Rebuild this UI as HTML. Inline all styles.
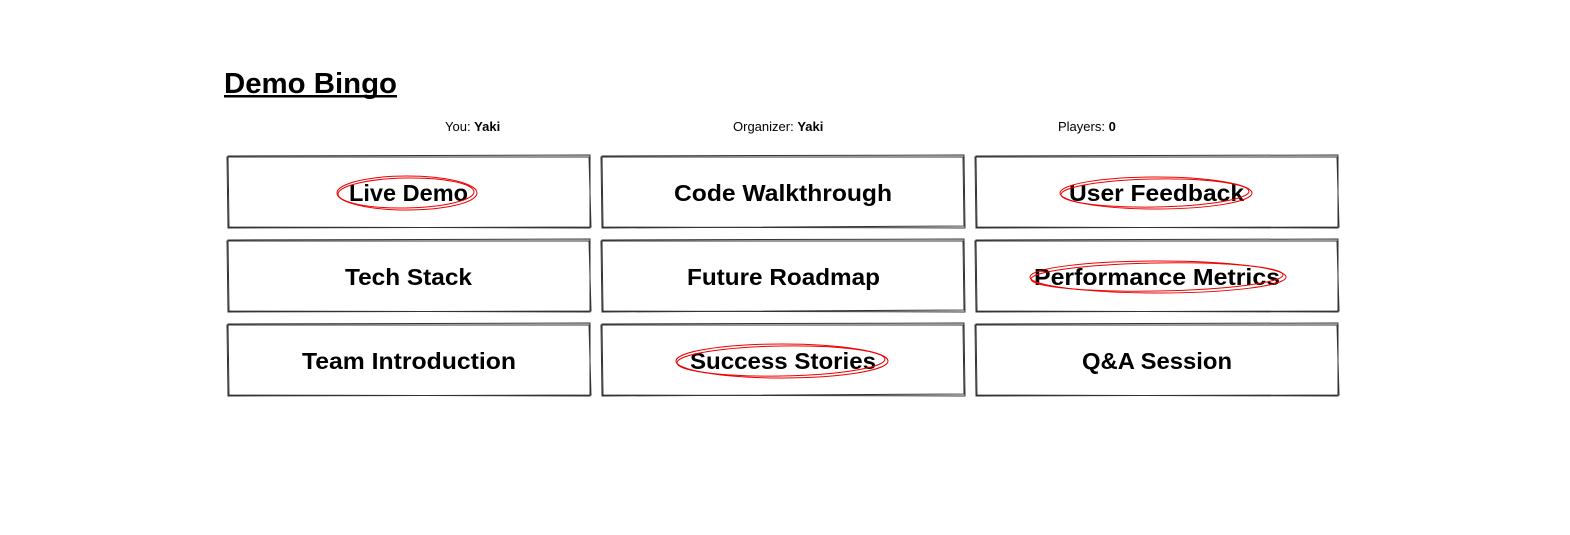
<!DOCTYPE html>
<html><head><meta charset="utf-8"><style>
html,body{margin:0;padding:0;background:#fff;width:1570px;height:535px;overflow:hidden}
svg{display:block}
text{font-family:"Liberation Sans",sans-serif;fill:#000}
</style></head><body>
<svg width="1570" height="535" viewBox="0 0 1570 535">
<text x="224" y="93" font-size="29" font-weight="bold" textLength="173" lengthAdjust="spacingAndGlyphs">Demo Bingo</text>
<rect x="224" y="95" width="173" height="2.5" fill="#000"/>
<g font-size="13">
<text x="445" y="131">You: <tspan font-weight="bold">Yaki</tspan></text>
<text x="733" y="131">Organizer: <tspan font-weight="bold">Yaki</tspan></text>
<text x="1058" y="131">Players: <tspan font-weight="bold">0</tspan></text>
</g>
<g fill="none" stroke="#333" stroke-width="1">
<path d="M228 156 L590 155 L590 228 L229 227 Z"/><path d="M227 157 L589 157 L591 227 L228 228 Z"/>
<path d="M602 156 L964 155 L965 228 L603 227 Z"/><path d="M601 157 L963 157 L964 226 L602 228 Z"/>
<path d="M976 156 L1338 155 L1338 228 L977 227 Z"/><path d="M975 157 L1337 157 L1339 227 L976 228 Z"/>
<path d="M228 240 L590 239 L590 312 L229 311 Z"/><path d="M227 241 L589 241 L591 311 L228 312 Z"/>
<path d="M602 240 L964 239 L965 312 L603 311 Z"/><path d="M601 241 L963 241 L964 310 L602 312 Z"/>
<path d="M976 240 L1338 239 L1338 312 L977 311 Z"/><path d="M975 241 L1337 241 L1339 311 L976 312 Z"/>
<path d="M228 324 L590 323 L590 396 L229 395 Z"/><path d="M227 325 L589 325 L591 395 L228 396 Z"/>
<path d="M602 324 L964 323 L965 396 L603 395 Z"/><path d="M601 325 L963 325 L964 394 L602 396 Z"/>
<path d="M976 324 L1338 323 L1338 396 L977 395 Z"/><path d="M975 325 L1337 325 L1339 395 L976 396 Z"/>
</g>
<g font-size="23" font-weight="bold" lengthAdjust="spacingAndGlyphs">
<text x="349" y="201" textLength="119" lengthAdjust="spacingAndGlyphs">Live Demo</text>
<text x="674" y="201" textLength="218" lengthAdjust="spacingAndGlyphs">Code Walkthrough</text>
<text x="1069" y="201" textLength="175" lengthAdjust="spacingAndGlyphs">User Feedback</text>
<text x="345" y="285" textLength="127" lengthAdjust="spacingAndGlyphs">Tech Stack</text>
<text x="687" y="285" textLength="193" lengthAdjust="spacingAndGlyphs">Future Roadmap</text>
<text x="1034" y="285" textLength="246" lengthAdjust="spacingAndGlyphs">Performance Metrics</text>
<text x="302" y="369" textLength="214" lengthAdjust="spacingAndGlyphs">Team Introduction</text>
<text x="690" y="369" textLength="186" lengthAdjust="spacingAndGlyphs">Success Stories</text>
<text x="1082" y="369" textLength="150" lengthAdjust="spacingAndGlyphs">Q&amp;A Session</text>
</g>
<g fill="none" stroke="#e00" stroke-width="1">
<ellipse cx="407" cy="193" rx="70" ry="17"/><ellipse cx="406" cy="193" rx="68" ry="15" transform="rotate(-1 406 193)"/>
<ellipse cx="1156" cy="193" rx="96" ry="16"/><ellipse cx="1155" cy="193" rx="94" ry="14" transform="rotate(-1 1155 193)"/>
<ellipse cx="1158" cy="277" rx="128" ry="16"/><ellipse cx="1157" cy="277" rx="126" ry="14" transform="rotate(-1 1157 277)"/>
<ellipse cx="782" cy="361" rx="106" ry="17"/><ellipse cx="781" cy="361" rx="104" ry="15" transform="rotate(-1 781 361)"/>
</g>
</svg>
</body></html>
